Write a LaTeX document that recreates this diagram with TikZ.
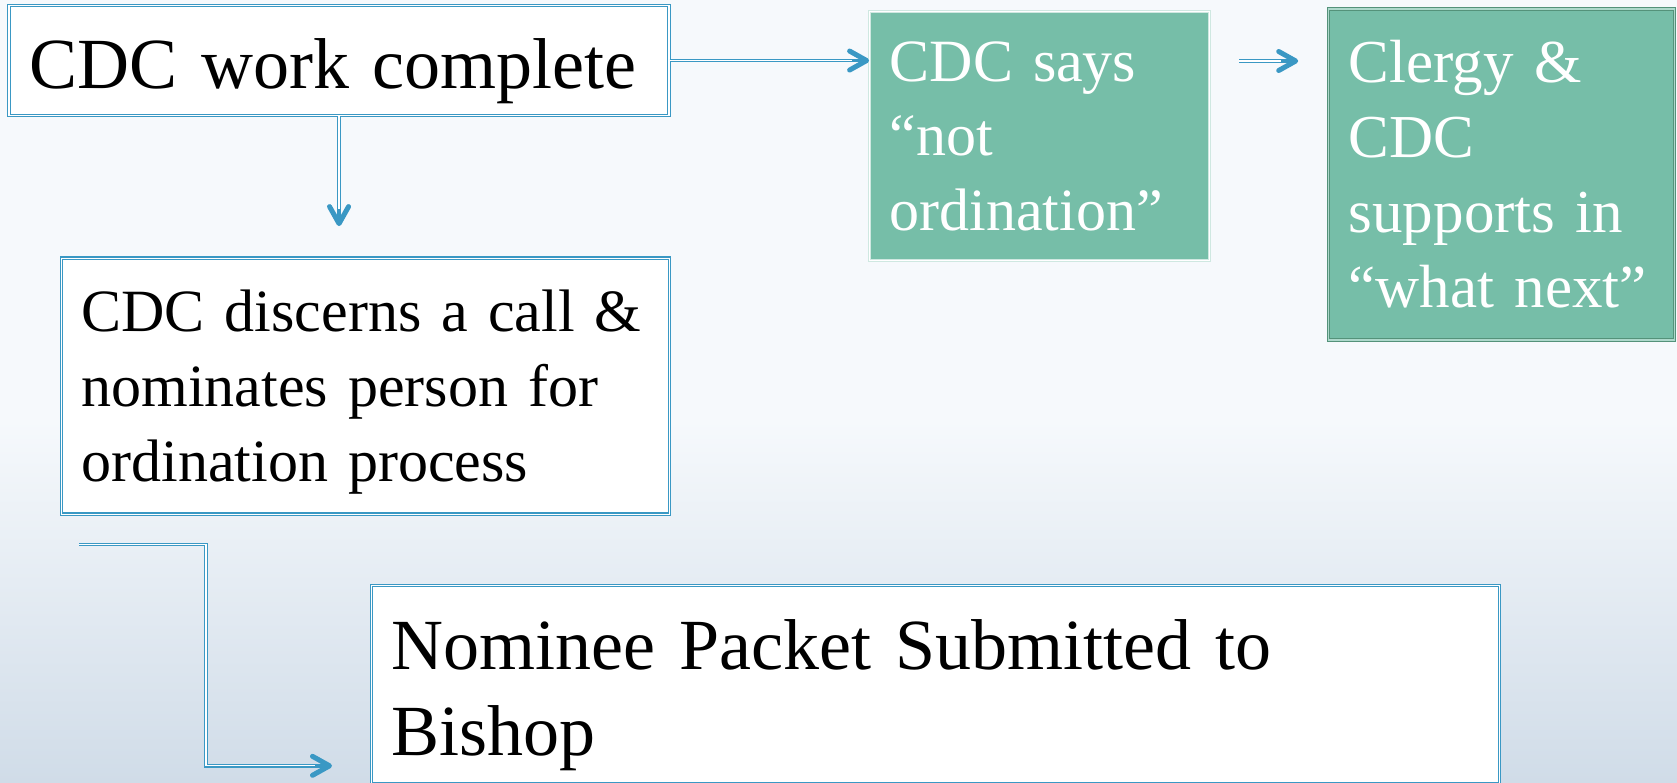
\documentclass[tikz,border=0pt]{standalone}
\usepackage{fontspec}
\setmainfont{Liberation Serif}
\usetikzlibrary{arrows.meta,positioning,calc}
\definecolor{lineblue}{RGB}{58,152,196}
\definecolor{sagefill}{RGB}{118,190,168}
\definecolor{sagedark}{RGB}{84,146,122}
\definecolor{bgtop}{RGB}{246,249,252}
\definecolor{bgbot}{RGB}{208,220,232}

\begin{document}
\begin{tikzpicture}[
		x=1pt, y=-1pt,
		whitebox/.style={rectangle, draw=lineblue, double=white, double distance=1.2pt,
				line width=1.1pt, fill=white, align=left, inner xsep=20pt, inner ysep=0pt,
				text=black},
		greenbox/.style={rectangle, draw=sagedark, double=sagefill!60, double distance=1.2pt,
				line width=1.1pt, fill=sagefill, align=left, inner xsep=20pt, inner ysep=0pt,
				text=white},
		arr/.style={draw=lineblue, line width=3.4pt,
				-{Straight Barb[length=17pt, width=19pt, line width=5pt, round]},
				postaction={draw=white, line width=1.2pt, -, shorten >=17pt}},
		]
		% Background
		\useasboundingbox (0,0) rectangle (1677,782);
		\fill[bgtop] (0,0) rectangle (1677,782);
		\shade[top color=bgtop, bottom color=bgbot] (0,420) rectangle (1677,782);

		% Nodes
		\node[whitebox, anchor=north west, text width=620pt, minimum height=110pt,
			text height=72pt, font=\fontsize{72}{86}\selectfont] (work) at (8.5,5)
			{CDC work complete};
		\node[greenbox, below right=6pt and 199.5pt of work.north east, text width=300pt,
			minimum height=249pt, draw=sagefill!35, double=white,
			font=\fontsize{60}{74.5}\selectfont] (says) {CDC says\\“not\\ordination”};
		\node[greenbox, below right=-2.5pt and 118pt of says.north east, text width=306pt,
			minimum height=331pt, font=\fontsize{61}{75}\selectfont] (clergy)
			{Clergy \&\\CDC\\supports in\\“what next”};
		\node[whitebox, below right=141.5pt and 52.5pt of work.south west, text width=568pt,
			minimum height=256pt, text height=54pt, font=\fontsize{60}{75}\selectfont] (discerns)
			{CDC discerns a call \&\\nominates person for\\ordination process};
		\node[whitebox, below right=70pt and 310pt of discerns.south west, text width=1088pt,
			minimum height=198pt, text height=72pt, font=\fontsize{72}{85.6}\selectfont] (packet)
			{Nominee Packet Submitted to\\Bishop};

		% Free ends
		\coordinate[below=110pt of work.south] (downtip);
		\coordinate[below right=50pt and 29pt of says.north east] (gapfrom);
		\coordinate[below left=52.5pt and 30pt of clergy.north west] (gapto);
		\coordinate[below right=30pt and 18pt of discerns.south west] (nomout);
		\coordinate[above left=18pt and 39pt of packet.south west] (pktin);

		% Arrows
		\draw[arr] (work.south) -- (downtip);
		\draw[arr] (work.east) -- (work.east -| says.west);
		\draw[arr] (gapfrom) -- (gapfrom -| gapto);
		\draw[arr] (nomout) -- ++(127pt,0) |- (pktin);
	\end{tikzpicture}
\end{document}
